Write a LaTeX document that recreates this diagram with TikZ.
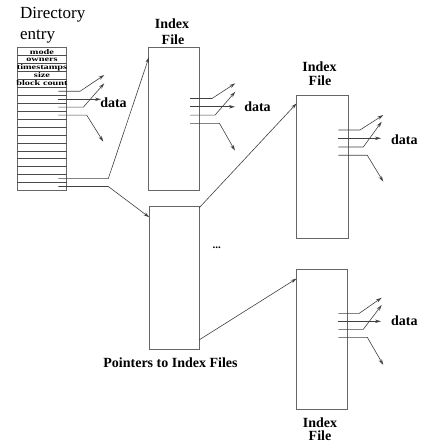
\documentclass[tikz,border=0pt]{standalone}
\usepackage{fontspec}
\setmainfont{Liberation Serif}
\usetikzlibrary{arrows.meta}
\begin{document}
\begin{tikzpicture}[x=1pt,y=-1pt,
  boxst/.style={draw=black!60,line width=0.8pt,anchor=north west,inner sep=0pt,outer sep=0pt},
  pline/.style={draw=black!75,line width=0.6pt},
  parrow/.style={pline,-{Stealth[length=6pt,width=3.5pt,open]}},
  lbl/.style={font=\bfseries\fontsize{14}{14}\selectfont,inner sep=0pt},
  hdr/.style={inner sep=0pt},
  rowline/.style={draw=black!70,line width=0.6pt}]
\useasboundingbox (0,0) rectangle (421,446);

% Directory entry
\node[anchor=base west,inner sep=0pt,font=\fontsize{17}{17}\selectfont] (dirt1) at (20,18.5) {Directory};
\node[anchor=base west,inner sep=0pt,font=\fontsize{17}{17}\selectfont] (dirt2) at (20,39.5) {entry};
\node[boxst,minimum width=49.5pt,minimum height=142.8pt] (dir) at (17.3,47.7) {};
\foreach \k in {1,...,17}{
  \draw[rowline] (17.3,47.7+\k*7.933) -- (66.8,47.7+\k*7.933);
}
\foreach \t [count=\i] in {mode,owners,timestamps,size,block count}{
  \node[hdr] (h\i) at (42,47.7+\i*7.933-4.0) {\scalebox{1}[0.7]{\bfseries\fontsize{10.3}{10.3}\selectfont \t}};
}

% Index file 1
\node[lbl] (i1a) at (172,23.5) {Index};
\node[lbl] (i1b) at (173,40) {File};
\node[boxst,minimum width=50.5pt,minimum height=142.5pt] (box1) at (148.5,47.5) {};

% Pointer box
\node[boxst,minimum width=49.7pt,minimum height=143pt] (ptr) at (149.3,206) {};
\node[lbl] (plbl) at (170.5,363) {Pointers to Index Files};
\node[inner sep=0pt,font=\bfseries\fontsize{11}{11}\selectfont] (dots) at (216.7,247.5) {...};

% Index file 2
\node[lbl] (i2a) at (319.5,67) {Index};
\node[lbl] (i2b) at (320,81) {File};
\node[boxst,minimum width=51.6pt,minimum height=143.3pt] (idx2) at (296.7,95) {};

% Index file 3
\node[boxst,minimum width=50.6pt,minimum height=140.3pt] (idx3) at (296.7,269) {};
\node[lbl] (i3a) at (320,422.5) {Index};
\node[lbl] (i3b) at (320,435.5) {File};

% data labels
\node[lbl] (d0) at (113.5,102.7) {data};
\node[lbl] (d1) at (257.5,106.7) {data};
\node[lbl] (d2) at (404.3,139.3) {data};
\node[lbl] (d3) at (404.3,321) {data};

% Directory pointers
\coordinate (a1) at (58.3,91.3);  \coordinate (b1) at (80,91.3);   \coordinate (t1) at (104.3,75);
\coordinate (a2) at (58.3,99.3);  \coordinate (t2) at (101,99.3);
\coordinate (a3) at (58.3,107.2); \coordinate (b3) at (83.3,107.2); \coordinate (t3) at (104.3,83.3);
\coordinate (a4) at (58.3,115.1); \coordinate (b4) at (86.7,115.1); \coordinate (t4) at (103.3,141.7);
\draw[parrow] (a1) -- (b1) -- (t1);
\draw[parrow] (a2) -- (t2);
\draw[parrow] (a3) -- (b3) -- (t3);
\draw[parrow] (a4) -- (b4) -- (t4);

\coordinate (a5) at (58.3,178.6); \coordinate (b5) at (108.3,178.6); \coordinate (t5) at (149,57);
\coordinate (a6) at (58.3,186.5); \coordinate (b6) at (108.3,186.5); \coordinate (t6) at (149.3,217.3);
\draw[parrow] (a5) -- (b5) -- (t5);
\draw[parrow] (a6) -- (b6) -- (t6);

% Box1 pointers
\coordinate (c1) at (190,98.5);  \coordinate (e1) at (212,98.5);  \coordinate (u1) at (235.3,83.3);
\coordinate (c2) at (190,106.8); \coordinate (u2) at (235,106.8);
\coordinate (c3) at (190,115.1); \coordinate (e3) at (215,115.1); \coordinate (u3) at (235.3,91.7);
\coordinate (c4) at (190,123.4); \coordinate (e4) at (219.5,123.4); \coordinate (u4) at (235,150.7);
\draw[parrow] (c1) -- (e1) -- (u1);
\draw[parrow] (c2) -- (u2);
\draw[parrow] (c3) -- (e3) -- (u3);
\draw[parrow] (c4) -- (e4) -- (u4);

% Pointer box links
\coordinate (p1) at (199,208);   \coordinate (q1) at (296.7,103.3);
\coordinate (p2) at (199,340);   \coordinate (q2) at (296.7,278.5);
\draw[parrow] (p1) -- (q1);
\draw[parrow] (p2) -- (q2);

% Index file 2 pointers
\coordinate (f1) at (338.3,130);   \coordinate (g1) at (360,130);   \coordinate (v1) at (383.3,115);
\coordinate (f2) at (338.3,138.3); \coordinate (v2) at (381,138.3);
\coordinate (f3) at (338.3,147);   \coordinate (g3) at (363.3,147); \coordinate (v3) at (381.7,121.7);
\coordinate (f4) at (338.3,155.3); \coordinate (g4) at (367.3,155.3); \coordinate (v4) at (383.3,181.7);
\draw[parrow] (f1) -- (g1) -- (v1);
\draw[parrow] (f2) -- (v2);
\draw[parrow] (f3) -- (g3) -- (v3);
\draw[parrow] (f4) -- (g4) -- (v4);

% Index file 3 pointers
\coordinate (h1) at (338.3,313.3); \coordinate (k1) at (359.3,313.3); \coordinate (w1) at (381.7,297.7);
\coordinate (h2) at (338.3,321.3); \coordinate (w2) at (381,321.3);
\coordinate (h3) at (338.3,329.3); \coordinate (k3) at (363.3,329.3); \coordinate (w3) at (381.7,305);
\coordinate (h4) at (338.3,337.3); \coordinate (k4) at (367.3,337.3); \coordinate (w4) at (383.3,365);
\draw[parrow] (h1) -- (k1) -- (w1);
\draw[parrow] (h2) -- (w2);
\draw[parrow] (h3) -- (k3) -- (w3);
\draw[parrow] (h4) -- (k4) -- (w4);
\end{tikzpicture}
\end{document}
